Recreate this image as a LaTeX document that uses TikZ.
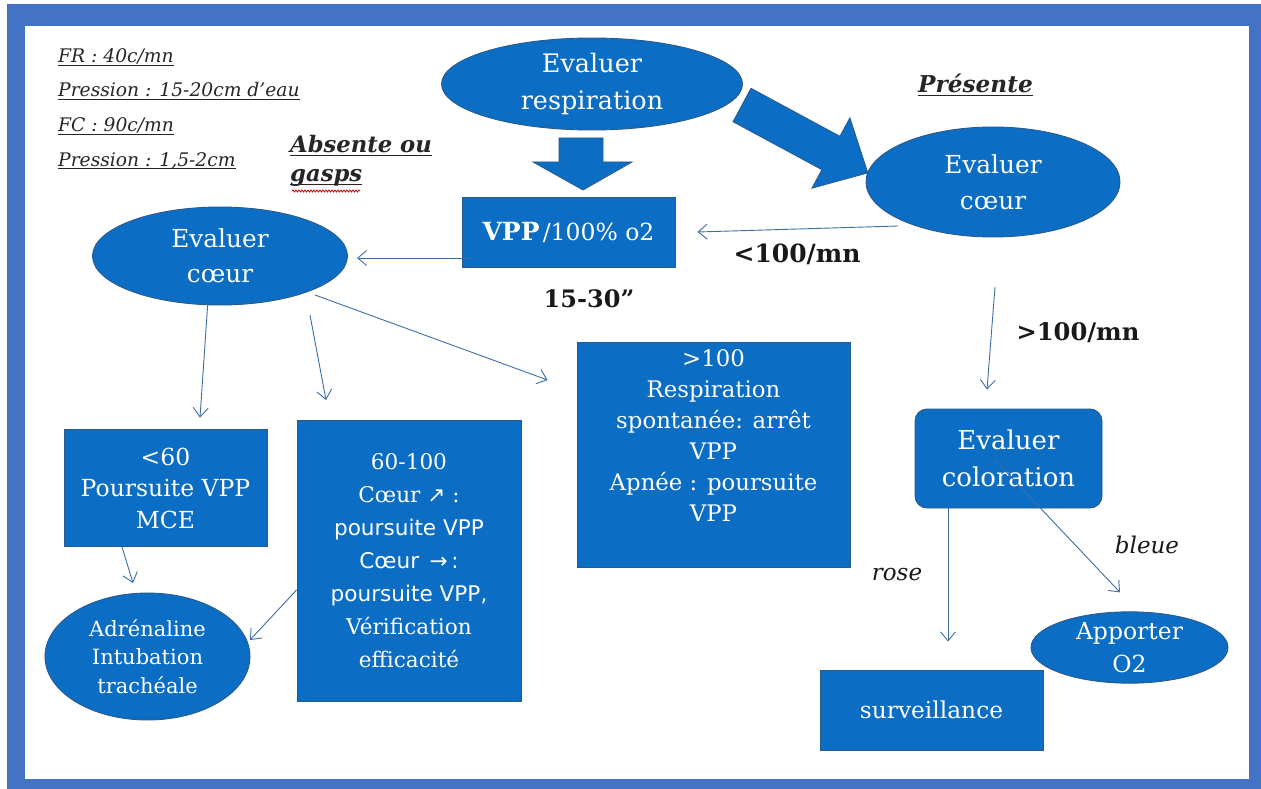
\documentclass[tikz,border=0pt]{standalone}
\usepackage{fontspec}
\setmainfont{DejaVu Serif}
\setsansfont{DejaVu Sans}
\usetikzlibrary{shapes.geometric,arrows.meta,calc,decorations.pathmorphing}

\definecolor{frameblue}{HTML}{4472C4}
\definecolor{blobfill}{HTML}{0B6DC3}
\definecolor{blobedge}{HTML}{2A5A8C}
\definecolor{linkblue}{HTML}{3C6EA6}

\newcommand\fsz[2]{\fontsize{#1}{#2}\selectfont}
% underline at a fixed depth below the baseline, crossing descenders
\newcommand\rulebelow[1]{\setbox0=\hbox{#1}\rlap{\rule[-3pt]{\wd0}{0.8pt}}\box0}

\tikzset{
  blob/.style={fill=blobfill, draw=blobedge, line width=0.9pt, text=white,
               align=center, inner sep=0pt},
  oval/.style={blob, ellipse},
  boxnode/.style={blob, rectangle},
  link/.style={draw=linkblue, line width=0.9pt,
               -{Straight Barb[length=9pt,width=15pt]}},
  note/.style={inner sep=0pt, anchor=base west, text=black!85},
  tag/.style={inner sep=0pt, text=black!90},
  bigarrow/.style={fill=blobfill, draw=blobedge, line width=0.8pt},
}

\begin{document}
\begin{tikzpicture}[x=1pt,y=-1pt]
\useasboundingbox (0,0) rectangle (1261,789);
% frame
\fill[white] (0,0) rectangle (1261,789);
\fill[frameblue] (7,4) rectangle (1261,789);
\fill[white] (25,26) rectangle (1249,779);

% settings notes
\node[note, font=\fsz{18.7}{22}\itshape] (fr)  at (58,62.5) {\rulebelow{FR : 40c/mn}};
\node[note, font=\fsz{18.7}{22}\itshape] (pr1) at (58,97)   {\rulebelow{Pression : 15-20cm d’eau}};
\node[note, font=\fsz{18.7}{22}\itshape] (fc)  at (58,131.5) {\rulebelow{FC : 90c/mn}};
\node[note, font=\fsz{18.7}{22}\itshape] (pr2) at (58,166)  {\rulebelow{Pression : 1,5-2cm}};

% branch labels
\node[note, font=\fsz{22.7}{26}\bfseries\itshape] (abs1) at (290,153) {\rulebelow{Absente ou}};
\node[note, font=\fsz{22.7}{26}\bfseries\itshape] (abs2) at (290,182) {\rulebelow{gasps}};
\draw[red!75!black, line width=0.8pt, decorate,
      decoration={snake, amplitude=1pt, segment length=3pt}] (292,191) -- (360,191);
\node[note, font=\fsz{23.2}{26}\bfseries\itshape] (pres) at (918,93) {\rulebelow{Présente}};

% shapes
\node[oval, minimum width=301pt, minimum height=92pt, font=\fsz{25.5}{37}]
  (resp) at (592,84) {Evaluer\\respiration};
\node[oval, minimum width=254pt, minimum height=110pt, font=\fsz{24.8}{36}]
  (coeurR) at (993,182) {Evaluer\\cœur};
\node[boxnode, minimum width=213pt, minimum height=70pt]
  (vpp) at (568.5,232) {{\fsz{25}{28}\bfseries VPP} {\fsz{23.5}{28}/100\% o2}};
\node[oval, minimum width=255pt, minimum height=98pt, font=\fsz{24.8}{35}]
  (coeurL) at (220,256) {Evaluer\\cœur};

\node[boxnode, minimum width=203pt, minimum height=117pt, font=\fsz{23.5}{31.5}]
  (low) at (165.5,488) {<60\\Poursuite VPP\\MCE};
\node[boxnode, minimum width=224pt, minimum height=281pt, font=\fsz{21.6}{33}]
  (mid) at (409,561) {60-100\\Cœur {\sffamily ↗} :\\{\sffamily poursuite VPP}\\
  {\sffamily Cœur\, →\,:}\\{\sffamily poursuite VPP,}\\Vérification\\efficacité};
\node[boxnode, minimum width=273pt, minimum height=225pt]
  (high) at (713.5,454.5) {};
\node[inner sep=0pt, text=white, align=center, font=\fsz{22.8}{31}]
  (highText) at (713.5,436) {>100\\Respiration\\spontanée: arrêt\\VPP\\Apnée : poursuite\\VPP};

\node[oval, minimum width=205pt, minimum height=127pt, font=\fsz{21}{28.5}]
  (adre) at (147.5,656.5) {Adrénaline\\Intubation\\trachéale};

\node[blob, rectangle, rounded corners=12pt, minimum width=187pt, minimum height=99pt,
      font=\fsz{26}{37}]
  (color) at (1008.5,458.5) {Evaluer\\coloration};
\node[oval, minimum width=197pt, minimum height=69pt, font=\fsz{23.5}{33}]
  (otwo) at (1129.5,647.5) {Apporter\\O2};
\node[boxnode, minimum width=223pt, minimum height=80pt, font=\fsz{23.3}{28}]
  (surv) at (931.5,710) {surveillance};

% block arrows out of the breathing check
\path[bigarrow] (559,138) -- (603,138) -- (603,162) -- (632,162) -- (583,190)
  -- (533,162) -- (559,162) -- cycle;
\path[bigarrow] (751,88.3) -- (839.9,136.3) -- (849.9,117.8) -- (867.8,172.9)
  -- (811.9,188.2) -- (821.9,169.7) -- (733,121.7) -- cycle;

% value labels
\node[tag, font=\fsz{24}{28}\bfseries] (t1530) at (589,299) {15-30”};
\node[tag, font=\fsz{25}{28}\bfseries] (lt100) at (797,254) {<100/mn};
\node[tag, font=\fsz{24.2}{28}\bfseries] (gt100) at (1078,333) {>100/mn};
\node[tag, font=\fsz{23}{28}\itshape] (rose) at (897,575) {rose};
\node[tag, font=\fsz{23}{28}\itshape] (bleue) at (1147,545) {bleue};

% connectors
\draw[link] ($(coeurR.center)+(-95,44)$) -- ($(vpp.east)+(22,0)$);
\draw[link] ($(vpp.center)+(-95.5,26)$) -- ($(coeurL.center)+(137,2)$);
\draw[link] ($(coeurL.center)+(-12,44)$) -- ($(low.north)+(34.5,-11.5)$);
\draw[link] ($(coeurL.center)+(90,59)$) -- ($(mid.north)+(-83,-20)$);
\draw[link] ($(coeurL.center)+(95,39)$) -- ($(high.west)+(-29,-74.5)$);
\draw[link] ($(low.south)+(-43.5,0)$) -- ($(adre.center)+(-14.5,-73.5)$);
\draw[link] ($(mid.west)+(0,29)$) -- ($(adre.center)+(102.5,-16.5)$);
\draw[link] ($(coeurR.center)+(2,105)$) -- ($(color.north)+(-21.5,-19)$);
\draw[link] ($(color.south)+(-60.5,0)$) -- ($(surv.north)+(16.5,-28)$);
\draw[link] ($(color.center)+(-13.5,1.5)$) -- ($(otwo.north)+(-9.5,-19)$);
\end{tikzpicture}
\end{document}
